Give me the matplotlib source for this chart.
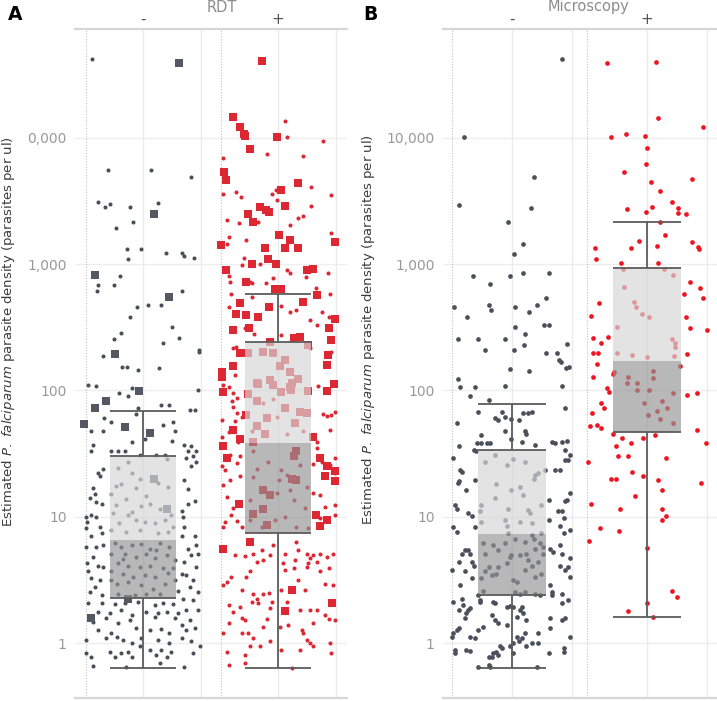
import matplotlib
matplotlib.use('Agg')
import matplotlib.pyplot as plt
import matplotlib.transforms as mtransforms
from matplotlib.ticker import FixedLocator, NullLocator

# ---------------- data ----------------
groups = ['-', '+']
y_ticks = [1, 10, 100, 1000, 10000]
a_tick_labels = ['1', '10', '100', '1,000', '0,000']
b_tick_labels = ['1', '10', '100', '1,000', '10,000']

# (jitter, parasites per ul)
a_neg_dots = [
    (-0.89, 42000), (-0.61, 5600), (0.14, 5600), (0.83, 4900), (-0.78, 3100), (-0.66, 2850),
    (-0.57, 3000), (-0.23, 2850), (0.26, 3050), (-0.17, 2150), (-0.47, 1930), (-0.28, 1320),
    (-0.03, 1320), (-0.26, 1100), (0.40, 1220), (0.68, 1220), (0.71, 1150), (0.89, 1110),
    (-0.78, 680), (-0.80, 610), (-0.50, 680), (-0.40, 800), (0.68, 610), (0.09, 475),
    (0.31, 475), (-0.10, 460), (-0.23, 380), (0.50, 320), (-0.38, 285), (-0.50, 255),
    (0.63, 260), (0.35, 237), (0.97, 209), (-0.70, 187), (-0.37, 153), (-0.28, 153),
    (-0.09, 145), (0.28, 150), (0.97, 200),
    (-0.96, 110), (-0.81, 108), (-0.20, 105), (0.96, 101), (-0.41, 95), (-0.26, 90), (0.32, 77),
    (0.46, 77), (0.81, 70), (0.91, 70), (-0.09, 73), (-0.12, 65), (-0.55, 56), (-0.67, 60),
    (0.35, 53), (0.52, 56), (-0.90, 48), (-0.70, 48), (0.55, 48), (-0.87, 37), (-0.90, 33),
    (-0.20, 39), (0.03, 41), (0.50, 40), (0.72, 37), (0.84, 36), (0.93, 33), (0.78, 33),
    (-0.55, 33), (-0.43, 33), (-0.32, 33), (-0.06, 31), (0.23, 31), (0.39, 31),
    (-0.70, 24), (-0.78, 22), (-0.75, 21), (-0.87, 17), (-0.84, 15), (-0.93, 14), (-0.81, 13),
    (-0.72, 12.5), (-1.00, 10), (-0.90, 10.3), (-0.81, 10), (-0.98, 9), (-0.75, 8.3), (-0.72, 7.4),
    (-0.90, 7), (-1.00, 8.2), (-0.70, 6),
    (0.75, 29), (0.87, 30), (0.84, 25), (0.93, 27), (0.72, 19.5), (0.78, 16.5), (0.91, 13.2),
    (0.78, 12.5), (0.67, 11), (0.70, 10), (0.72, 8.3), (0.67, 7), (0.90, 7), (0.93, 6),
    (0.78, 5.5), (0.96, 5.1),
    (-0.26, 27), (-0.43, 24.5), (0.42, 28.5), (-0.20, 22), (-0.06, 20), (-0.38, 18), (-0.47, 17.5),
    (-0.12, 17), (0.26, 18.5), (0.44, 17.3), (-0.56, 15), (0.06, 14.5), (-0.29, 13.8),
    (-0.47, 12.3), (-0.03, 12.2), (0.12, 12.6), (0.29, 11.6), (-0.52, 10.6), (-0.26, 10.3),
    (-0.12, 9.5), (-0.41, 8.9), (0.03, 9.1), (0.20, 8.9), (0.38, 9.4), (0.49, 10.3), (-0.55, 7.8),
    (-0.29, 7.6), (-0.06, 7.9), (0.26, 7.4), (0.44, 7.6), (-0.20, 10.9), (0.52, 8.3),
    (-0.49, 6.2), (-0.38, 5.8), (-0.20, 6), (-0.03, 6.1), (0.12, 5.6), (0.29, 6.2), (0.46, 5.8),
    (-0.55, 5.1), (-0.32, 5.1), (-0.12, 4.8), (0.06, 5.1), (0.20, 4.7), (0.41, 5), (0.55, 4.5),
    (-0.43, 4.3), (-0.26, 4.1), (-0.06, 4), (0.12, 4.1), (0.35, 3.9), (-0.55, 3.7), (-0.35, 3.55),
    (-0.17, 3.35), (0.03, 3.45), (0.20, 3.35), (0.44, 3.6), (0.55, 3.15), (-0.46, 2.95),
    (-0.26, 3.05), (-0.03, 2.9), (0.17, 2.7), (0.38, 2.95), (-0.43, 2.45), (-0.14, 2.4),
    (0.06, 2.45), (0.29, 2.45), (-0.35, 4.6), (0.23, 5.4), (-0.55, 3.15), (0.52, 3.9),
    (-0.87, 4.8), (-0.98, 4.3), (-0.78, 4.1), (-0.70, 4), (-0.90, 3.25), (-0.75, 3.15),
    (-0.84, 2.8), (-0.93, 2.55), (-0.72, 2.4), (-1.00, 5.8), (-0.81, 5.8), (-0.96, 3.7),
    (0.67, 3.55), (0.75, 3.45), (0.87, 3.15), (0.61, 2.6), (0.81, 2.8), (0.96, 2.55),
    (0.72, 4.4), (0.84, 5.0), (0.93, 4),
    (-0.96, 2.06), (-0.72, 2.08), (-0.49, 2.04), (-0.32, 2.08), (-0.09, 2.12), (0.20, 2.0),
    (0.35, 2.08), (0.52, 2.04), (0.70, 2.25), (0.87, 2.2), (-0.78, 1.77), (-0.58, 1.72),
    (-0.38, 1.82), (-0.20, 1.67), (0.06, 1.77), (0.26, 1.72), (0.41, 1.77), (0.61, 1.72),
    (0.75, 1.82), (0.96, 1.82), (-0.87, 1.47), (-0.64, 1.57), (-0.43, 1.43), (-0.23, 1.52),
    (0.20, 1.62), (0.55, 1.57), (0.67, 1.39), (0.81, 1.52), (0.90, 1.31), (-0.78, 1.27),
    (-0.55, 1.19), (-0.12, 1.31), (0.12, 1.27), (0.32, 1.28), (0.46, 1.19), (0.75, 1.27),
    (-0.99, 1.06), (-0.64, 1.09), (-0.46, 1.12), (-0.35, 1.06), (-0.20, 1.0), (-0.03, 1.09),
    (0.26, 1.06), (0.46, 1.0), (0.67, 1.09), (0.84, 1.03), (-0.99, 0.83), (-0.90, 0.78),
    (-0.58, 0.85), (-0.49, 0.78), (-0.38, 0.83), (-0.26, 0.85), (-0.20, 0.78), (-0.06, 0.94),
    (0.12, 0.88), (0.23, 0.80), (0.32, 0.88), (0.41, 0.78), (0.49, 0.85), (0.87, 0.83),
    (-0.87, 0.66), (-0.29, 0.64), (0.29, 0.69), (0.72, 0.64), (0.99, 0.94),
]
a_neg_squares = [
    (0.63, 39000), (0.19, 2500), (-0.83, 820), (0.45, 550), (-0.49, 195), (-0.07, 99),
    (-0.65, 82), (-0.84, 73), (-1.03, 54), (-0.31, 51), (0.12, 46), (0.19, 19.7),
    (0.42, 11.6), (-0.26, 2.25), (-0.90, 1.59),
]
a_pos_dots = [
    (0.12, 13500), (0.16, 10200), (0.79, 9500), (-0.20, 7400), (0.43, 7200), (-0.96, 6950),
    (-0.96, 3580), (-0.73, 3740), (-0.65, 3370), (-0.03, 3850), (-0.11, 3560), (0.58, 4050),
    (0.93, 3520), (-0.89, 2250), (-0.67, 2100), (-0.34, 2160), (-0.01, 3210), (0.58, 2880),
    (0.34, 2300), (0.44, 2400), (0.21, 2040), (-0.86, 1630), (-0.88, 1440), (-0.56, 1550),
    (0.93, 1770), (-0.59, 1110), (-0.62, 980), (-0.31, 1000), (0.15, 900), (0.21, 855),
    (0.87, 845), (-0.86, 805), (-0.84, 725), (-0.49, 725), (-0.46, 703), (-0.21, 712),
    (-0.08, 770), (0.49, 790), (0.66, 650), (-0.82, 580), (-0.46, 545), (0.91, 575),
    (0.06, 465), (0.20, 420), (0.31, 433), (-0.86, 454), (0.76, 420), (0.55, 360), (0.88, 383),
    (0.67, 329), (-0.57, 310), (-0.41, 279), (0.05, 274), (-0.73, 222), (-0.79, 215),
    (-0.65, 199), (0.55, 215), (0.93, 202), (-0.75, 132),
    (-0.95, 110), (-0.86, 107), (-0.78, 95), (-0.72, 87), (-0.80, 83), (-0.78, 74), (-0.72, 66),
    (-0.98, 58), (-0.63, 62), (-0.75, 57), (-0.86, 47), (-0.98, 43), (-0.69, 39),
    (0.70, 108), (0.82, 103), (0.99, 68), (0.93, 64), (0.85, 63), (0.79, 65), (0.91, 49),
    (0.67, 39), (0.61, 44), (0.67, 35), (0.99, 29), (0.61, 26), (0.76, 27), (0.90, 25.5),
    (0.99, 22), (0.61, 15.3), (0.73, 14.8), (0.81, 12), (0.99, 12.3), (0.99, 10.3), (0.73, 9.7),
    (-0.92, 23.5), (-0.84, 19.5), (-0.66, 21), (-0.95, 17.8), (-0.89, 14.4), (-0.78, 11.7),
    (-0.81, 10.4), (-0.72, 9.2), (-0.92, 9), (-0.95, 8.3), (-0.63, 8.3), (-0.72, 26.5),
    (-0.98, 25), (-0.66, 30), (-0.84, 31),
    (-0.26, 79), (-0.02, 62), (0.15, 45), (0.44, 48), (-0.46, 48), (-0.08, 86),
    (-0.43, 33), (-0.17, 27), (0.06, 23.5), (0.38, 25.5), (-0.43, 20.7), (0.15, 21.4),
    (0.50, 17.3), (-0.02, 15.3), (0.27, 13.6), (0.47, 11.7), (-0.49, 9.5), (0.12, 10),
    (-0.05, 9.5), (-0.28, 8.3), (0.32, 8.3), (0.53, 8.1), (-0.37, 24), (0.01, 19.5),
    (-0.49, 13.6), (0.21, 16.3),
    (-0.75, 5), (-0.57, 4.9), (-0.43, 5.1), (-0.28, 5.4), (-0.14, 5), (-0.08, 6), (0.12, 5.1),
    (0.32, 6.3), (0.35, 5.4), (0.50, 5.1), (0.61, 5), (0.73, 5.1), (0.85, 4.8), (0.96, 5.1),
    (-0.37, 4.4), (-0.26, 4.5), (0.09, 4.3), (0.30, 4.5), (0.53, 4.3), (0.67, 4.4), (0.56, 4.7),
    (-0.49, 3.7), (0.12, 3.8), (0.27, 3.9), (0.50, 4), (0.73, 3.7), (0.88, 3.9), (-0.81, 3.35),
    (-0.89, 3.05), (-0.55, 3.35), (0.35, 3.15), (-0.95, 2.9), (-0.63, 2.65), (-0.43, 2.45),
    (-0.26, 2.45), (-0.15, 2.5), (0.06, 2.65), (0.47, 2.65), (0.82, 2.95), (0.96, 2.9),
    (-0.37, 2.25), (-0.34, 2.08), (-0.46, 2.1), (-0.11, 2.1), (0.15, 2.1), (0.38, 1.82),
    (0.56, 1.82), (0.67, 1.82), (0.82, 1.67), (0.88, 1.54), (0.99, 1.52), (-0.86, 2),
    (-0.78, 1.77), (-0.66, 1.94), (-0.86, 1.43), (-0.63, 1.57), (-0.57, 1.52), (-0.14, 1.88),
    (0.03, 1.33), (0.18, 1.39), (0.41, 1.27), (0.61, 1.43), (-0.26, 1.35), (-0.20, 1.54),
    (-0.52, 1.19), (-0.43, 1.09), (-0.95, 1.19), (-0.63, 1.19), (-0.31, 0.94), (-0.14, 1.04),
    (0.44, 1.19), (0.50, 1.06), (0.56, 1.0), (0.61, 0.94), (0.90, 1.0), (0.38, 0.88),
    (0.06, 0.88), (-0.49, 0.94), (-0.57, 0.80), (-0.89, 0.85), (-0.86, 0.67), (-0.57, 0.69),
    (0.24, 0.63), (0.93, 0.83),
]
a_pos_squares = [
    (-0.28, 40500), (-0.78, 14500), (-0.66, 12200), (-0.60, 10800), (-0.57, 10300),
    (-0.48, 8100), (-0.02, 10200), (-0.94, 5400), (-0.90, 4600), (0.35, 4400), (0.05, 3850),
    (-0.32, 2850), (-0.21, 2700), (-0.15, 2600), (0.13, 2880), (-0.53, 2500), (-0.43, 2160),
    (0.02, 1700), (0.20, 1550), (0.12, 1350), (0.34, 1330), (-1.00, 1410), (0.99, 1500),
    (-0.22, 1330), (-0.18, 1090), (-0.03, 1010), (-0.45, 1010), (-0.90, 900), (0.50, 900),
    (0.61, 910), (-0.56, 725), (-0.05, 640), (0.06, 640), (0.67, 570), (-0.66, 490),
    (0.43, 505), (-0.15, 460), (-0.73, 405), (-0.56, 395), (-0.34, 383), (-0.50, 313),
    (-0.79, 300), (0.99, 370), (0.89, 310), (0.93, 250), (0.27, 258), (0.38, 263),
    (-0.14, 243), (0.53, 229), (0.87, 190), (-0.66, 196), (-0.79, 156), (0.85, 158),
    (-0.98, 141), (-0.98, 128),
    (-0.52, 196), (-0.26, 200), (-0.08, 196), (0.12, 174), (0.03, 155), (0.21, 140),
    (-0.37, 114), (0.24, 114), (0.35, 124), (-0.14, 120),
    (-0.96, 97), (-0.78, 49), (-0.66, 41), (-0.96, 36), (-0.89, 29), (-0.67, 12.6),
    (-0.96, 5.6), (-0.49, 6.3), (0.97, 113), (0.85, 99), (0.61, 43), (0.73, 29), (0.85, 25),
    (0.99, 23), (0.81, 21), (0.99, 19), (0.66, 10.3), (0.85, 9.4), (0.73, 8.4),
    (-0.34, 113), (-0.52, 93), (-0.37, 82), (0.06, 97), (0.23, 100), (0.53, 98), (0.12, 72),
    (0.38, 68), (0.50, 66), (-0.55, 64), (-0.20, 60), (0.30, 55), (-0.37, 52), (-0.08, 110),
    (-0.43, 39), (-0.23, 45), (0.21, 106),
    (0.27, 30), (0.32, 33), (0.24, 20), (-0.26, 16.3), (-0.14, 14.9), (-0.26, 11.6),
    (-0.20, 8.6), (-0.43, 10.5), (0.32, 19.6),
    (0.24, 2.65), (0.12, 1.8), (0.94, 2.08),
]
b_neg_dots = [
    (0.83, 42000), (-0.80, 10100), (-0.88, 2940), (0.37, 4900), (0.32, 2780), (-0.07, 2150),
    (0.18, 1440), (0.03, 1200), (-0.65, 800), (-0.03, 800), (0.18, 850), (0.62, 850),
    (-0.37, 695), (-0.97, 460), (-0.75, 380), (-0.38, 475), (-0.35, 434), (0.05, 460),
    (0.28, 417), (0.42, 475), (0.57, 540), (0.05, 320), (0.53, 330), (0.62, 330), (0.22, 280),
    (0.20, 229), (-0.90, 255), (-0.57, 255), (-0.12, 255), (0.92, 233), (-0.45, 209), (0.03, 209),
    (0.57, 198), (0.75, 198), (0.78, 174), (0.82, 168), (0.90, 150), (0.95, 153), (-0.03, 148),
    (0.28, 143), (-0.90, 123),
    (-0.87, 107), (-0.62, 107), (-0.12, 109), (0.83, 108), (-0.70, 90), (-0.39, 84), (0.88, 72),
    (-0.56, 68), (-0.17, 68), (-0.12, 62), (-0.28, 60), (-0.23, 58), (-0.01, 59), (0.12, 58),
    (0.19, 66), (0.27, 66), (0.33, 67), (-0.92, 55), (-0.12, 48), (0.22, 48), (0.24, 45),
    (-0.51, 44), (-0.01, 41), (0.16, 39), (0.38, 37), (-0.59, 38), (-0.51, 38), (-0.42, 38),
    (-0.37, 38.5), (-0.89, 36), (-0.64, 34), (-0.60, 33), (0.66, 39), (0.72, 38.5), (0.84, 39),
    (0.91, 40), (0.89, 34),
    (0.97, 31), (0.88, 28), (0.93, 28), (0.80, 23.5), (0.72, 23.5), (0.55, 23.5), (0.97, 15.3),
    (0.91, 13.5), (0.88, 13.2), (0.77, 11), (0.83, 11), (0.86, 9.7), (0.80, 8.4), (0.97, 7.8),
    (0.86, 7.4), (0.61, 9.4), (0.61, 13.5), (0.80, 6), (0.63, 5.6), (0.69, 5.3), (0.83, 5.1),
    (0.97, 4.7), (0.88, 3.8), (0.93, 4.0), (0.80, 4.1), (0.97, 3.35), (0.63, 2.9), (0.66, 2.55),
    (0.83, 2.45), (0.93, 2.2),
    (-0.98, 29), (-0.87, 23.5), (-0.84, 22.7), (-0.89, 19), (-0.90, 18.5), (-0.62, 19.5),
    (-0.76, 16.3), (-0.95, 12.4), (-0.92, 11.6), (-0.67, 10.1), (-0.73, 10.6), (-0.98, 8.3),
    (-0.92, 7.6), (-0.62, 8.3), (-0.78, 5.4), (-0.73, 5.4), (-0.70, 5.1), (-0.84, 5.1),
    (-0.89, 4.4), (-0.67, 4.4), (-0.64, 4.1), (-1.00, 3.8), (-0.78, 3.7), (-0.67, 3.25),
    (-0.87, 2.9), (-0.98, 2.1), (-0.84, 2.25), (-0.81, 2.0), (-0.73, 1.82), (-0.76, 1.72),
    (-0.70, 1.88), (-0.89, 1.82), (-0.78, 1.57), (-0.89, 1.31), (-0.92, 1.27), (-1.00, 1.12),
    (-0.98, 1.19), (-0.70, 1.12), (-0.62, 1.09), (-0.56, 1.27), (-0.48, 1.35), (-0.95, 0.88),
    (-0.95, 0.83), (-0.76, 0.88), (-0.70, 0.87), (-0.53, 2.2), (-0.56, 2.4),
    (-0.45, 27), (-0.28, 31), (0.02, 28.5), (-0.09, 25.5), (0.22, 27), (0.38, 21.5), (0.44, 22),
    (0.36, 20), (-0.26, 18.3), (-0.01, 16.3), (0.13, 17.3), (0.19, 14.8), (0.27, 11.3),
    (0.30, 10.6), (-0.51, 12.3), (-0.53, 11), (-0.06, 11.6), (-0.28, 14), (-0.12, 9.4),
    (-0.09, 8.4), (0.13, 9.1), (0.33, 8.9), (0.49, 12.3), (-0.51, 9.1), (0.33, 7.1),
    (-0.48, 6.2), (-0.31, 6), (-0.12, 6.2), (0.05, 6.7), (0.22, 6.3), (0.36, 6.7), (0.47, 6.2),
    (-0.45, 5.1), (-0.01, 5), (0.13, 5), (0.24, 5.1), (0.38, 5.6), (0.27, 4.5), (0.52, 5.1),
    (-0.39, 4.0), (-0.26, 3.55), (-0.23, 4.0), (-0.09, 4.3), (-0.03, 4.8), (0.33, 4.1),
    (0.44, 4.4), (0.52, 5.8), (-0.45, 3.7), (-0.51, 3.25), (-0.34, 3.45), (0.02, 3.15),
    (0.08, 3.05), (0.22, 3.8), (0.38, 3.35), (0.49, 3.55), (-0.48, 2.6), (0.05, 2.55),
    (0.13, 2.45), (0.22, 2.55), (-0.23, 5.4), (-0.06, 7.4), (0.49, 7.4),
    (-0.53, 2.1), (-0.28, 2.06), (-0.09, 1.94), (-0.03, 1.96), (0.02, 1.94), (0.13, 1.82),
    (0.19, 1.72), (0.08, 1.62), (0.16, 1.94), (-0.34, 1.67), (-0.28, 1.52), (-0.23, 1.43),
    (0.24, 1.52), (-0.09, 1.39), (0.22, 1.19), (0.08, 1.12), (0.16, 1.09), (0.11, 1.03),
    (0.02, 1.0), (-0.03, 0.94), (0.24, 0.94), (0.33, 1.0), (0.44, 1.0), (0.44, 1.19),
    (0.63, 1.31), (0.63, 1.57), (0.83, 1.52), (0.88, 1.57), (0.97, 1.12), (0.86, 0.91),
    (0.86, 0.85), (0.61, 0.83), (-0.20, 0.94), (-0.26, 0.85), (-0.23, 0.80), (-0.31, 0.83),
    (-0.39, 0.78), (-0.34, 0.78), (-0.17, 0.91), (-0.39, 0.67), (-0.37, 0.65), (-0.56, 0.64),
    (0.41, 0.64), (0.02, 0.83), (0.38, 2.45), (-0.31, 2.1), (0.47, 2.4), (0.83, 2.08),
    (0.66, 2.4),
]
b_pos_dots = [
    (-0.67, 39000), (0.15, 40000), (0.18, 14300), (0.93, 12200), (-0.60, 10100), (-0.35, 10700),
    (-0.03, 10300), (0.00, 8300), (-0.02, 6200), (-0.38, 5370), (0.07, 4470), (0.75, 4720),
    (0.22, 3800), (0.42, 3100), (0.52, 2780), (0.52, 2540), (0.65, 2500), (0.08, 2830),
    (-0.02, 2590), (-0.33, 2730), (0.22, 2150), (0.30, 1700), (-0.13, 1520), (0.17, 1390),
    (-0.27, 1340), (-0.87, 1340), (0.75, 1500), (0.85, 1370), (0.87, 1320), (-0.85, 1100),
    (-0.43, 1020), (0.18, 1020), (-0.40, 915), (0.28, 915), (0.43, 820), (-0.38, 660),
    (0.72, 720), (0.88, 646), (0.62, 580), (0.93, 540), (-0.80, 492), (-0.22, 500),
    (-0.18, 457), (-0.08, 403), (0.03, 380), (-0.93, 388), (0.65, 380), (-0.50, 316),
    (0.72, 312), (1.00, 300), (-0.90, 260), (-0.77, 237), (-0.65, 265), (0.42, 255),
    (0.47, 237), (0.47, 221),
    (-0.90, 198), (-0.82, 198), (-0.83, 162), (-0.50, 198), (-0.25, 190), (0.00, 184),
    (0.45, 187), (0.67, 194), (0.55, 156), (-0.55, 140), (-0.57, 135), (-0.90, 128),
    (-0.32, 128), (0.10, 143), (0.10, 126), (-0.67, 105), (-0.63, 97), (-0.33, 114),
    (-0.17, 114), (-0.17, 101), (0.03, 101), (0.43, 95), (0.67, 92), (0.83, 95), (-0.77, 79),
    (-0.72, 73), (-0.92, 66), (-0.05, 79), (0.25, 82), (0.17, 69), (0.33, 73), (0.02, 64),
    (0.22, 59), (0.43, 55), (-0.95, 52), (-0.83, 53), (-0.77, 50), (0.83, 49), (-0.57, 45),
    (-0.42, 42), (-0.07, 42), (0.13, 44), (-0.27, 38), (0.98, 38), (-0.52, 36), (-0.98, 27),
    (-0.48, 30), (-0.32, 30), (0.32, 29), (-0.25, 22.6), (-0.60, 20), (-0.52, 20), (-0.07, 21),
    (0.18, 19.5), (0.90, 18.5), (-0.20, 14.6), (0.25, 16.3), (-0.93, 12.6), (-0.45, 11.5),
    (0.25, 11.5), (0.32, 10.1), (0.25, 9.4), (-0.78, 8.1), (-0.47, 7.7), (-0.97, 6.4),
    (0.00, 5.65), (0.42, 2.58), (0.50, 2.31), (-0.32, 1.79), (0.00, 2.07), (0.10, 1.61),
]

# box plot summaries per group (order: '-', '+')
a_lower = [0.63, 0.63]
a_q1 = [2.27, 7.43]
a_median = [6.5, 38.4]
a_q3 = [30.2, 242]
a_upper = [68.7, 580]
b_lower = [0.63, 1.6]
b_q1 = [2.4, 47]
b_median = [7.3, 171]
b_q3 = [33.7, 930]
b_upper = [78, 2150]

GREY = '#4a4f59'
GREY_SQ = '#535862'
RED_A = '#dd2733'
RED_B = '#ee1521'
YLABEL = r'Estimated $\it{P.\ falciparum}$ parasite density (parasites per ul)'

fig = plt.figure(figsize=(7.17, 7.01), dpi=100)
ax_a = fig.add_axes([75 / 717, 3 / 701, 272 / 717, 669 / 701])
ax_b = fig.add_axes([443 / 717, 3 / 701, 274 / 717, 669 / 701])


def setup(ax, xlim, centers, tick_labels, header, header_x):
    ax.set_yscale('log')
    ax.set_ylim(0.367, 72600)
    ax.set_xlim(*xlim)
    ax.yaxis.set_major_locator(FixedLocator(y_ticks))
    ax.yaxis.set_minor_locator(NullLocator())
    ax.set_yticklabels(tick_labels)
    ax.tick_params(axis='y', length=0, pad=6, labelsize=10, labelcolor='#9a9a9a')
    ax.set_xticks([])
    for s in ['left', 'right']:
        ax.spines[s].set_visible(False)
    for s in ['top', 'bottom']:
        ax.spines[s].set_color('#d6d6d6')
        ax.spines[s].set_linewidth(1.6)
    for t in y_ticks:
        ax.axhline(t, color='#eeeeee', lw=1, zorder=0)
    for c in centers:
        ax.axvline(c - 1, color='#c2c2c2', lw=0.8, ls=(0, (1, 1.5)), zorder=0)
        ax.axvline(c, color='#ebebeb', lw=1, zorder=0)
        ax.axvline(c + 1, color='#ebebeb', lw=1, zorder=0)
    trans = mtransforms.blended_transform_factory(ax.transData, ax.transAxes)
    for c, g in zip(centers, groups):
        ax.text(c, 1 + 10 / 669, g, transform=trans, ha='center', va='center',
                fontsize=11, color='#555555')
    ax.text(header_x, 1 + 22 / 669, header, transform=trans, ha='center', va='center',
            fontsize=10.5, color='#8c8c8c')


def scatter(ax, c, pts, marker, color, size):
    xs = [c + p[0] for p in pts]
    ys = [p[1] for p in pts]
    ax.scatter(xs, ys, s=size, marker=marker, c=color, linewidths=0, zorder=3)


def draw_box(ax, c, half, lo, q1, med, q3, hi):
    ax.fill_between([c - half, c + half], med, q3, color='#d6d6d6', alpha=0.68, lw=0, zorder=4)
    ax.fill_between([c - half, c + half], q1, med, color='#939393', alpha=0.66, lw=0, zorder=4)
    kw = dict(color='#5c5c5c', lw=1.3, zorder=5, solid_capstyle='butt')
    ax.plot([c, c], [q3, hi], **kw)
    ax.plot([c, c], [lo, q1], **kw)
    for y in (lo, q1, q3, hi):
        ax.plot([c - half, c + half], [y, y], **kw)


# panel A
a_centers = [0, 2.348]
setup(ax_a, (-1.183, 3.548), a_centers, a_tick_labels, 'RDT', 1.374)
scatter(ax_a, a_centers[0], a_neg_dots, 'o', GREY, 8.5)
scatter(ax_a, a_centers[0], a_neg_squares, 's', GREY_SQ, 36)
scatter(ax_a, a_centers[1], a_pos_dots, 'o', RED_A, 8.5)
scatter(ax_a, a_centers[1], a_pos_squares, 's', RED_A, 36)
for i, c in enumerate(a_centers):
    draw_box(ax_a, c, 0.58, a_lower[i], a_q1[i], a_median[i], a_q3[i], a_upper[i])

# panel B
b_centers = [0, 2.25]
setup(ax_b, (-1.15, 3.417), b_centers, b_tick_labels, 'Microscopy', 1.28)
scatter(ax_b, b_centers[0], b_neg_dots, 'o', GREY, 11.5)
scatter(ax_b, b_centers[1], b_pos_dots, 'o', RED_B, 11.5)
for i, c in enumerate(b_centers):
    draw_box(ax_b, c, 0.56, b_lower[i], b_q1[i], b_median[i], b_q3[i], b_upper[i])

fig.text(9 / 717, 1 - 332 / 701, YLABEL, rotation=90, ha='center', va='center',
         fontsize=9.5, color='#3c3c3c')
fig.text(369 / 717, 1 - 330 / 701, YLABEL, rotation=90, ha='center', va='center',
         fontsize=9.5, color='#3c3c3c')
fig.text(15 / 717, 1 - 15 / 701, 'A', ha='center', va='center', fontsize=13.5,
         fontweight='bold', color='black')
fig.text(370 / 717, 1 - 15 / 701, 'B', ha='center', va='center', fontsize=13.5,
         fontweight='bold', color='black')

fig.savefig('out.png', dpi=100)
